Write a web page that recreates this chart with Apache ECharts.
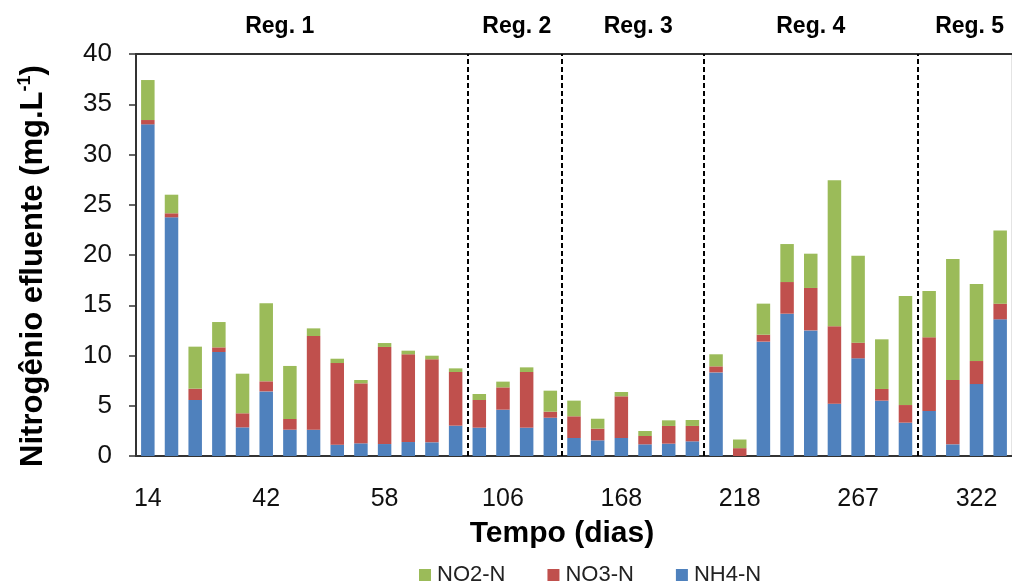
<!DOCTYPE html>
<html>
<head>
<meta charset="utf-8">
<script src="https://cdn.jsdelivr.net/npm/echarts@6/dist/echarts.min.js"></script>
<style>
  html, body { margin: 0; padding: 0; background: #fff; }
  #chart { width: 1012px; height: 585px; }
</style>
</head>
<body>
<div id="chart"></div>
<script>
// Sampling days (only every fifth one is labelled on the axis)
const days = [14, 18, 21, 28, 35, 42, 44, 47, 50, 54, 58, 62, 65, 70,
              99, 106, 113, 120,
              154, 161, 168, 182, 196, 203,
              211, 218, 225, 232, 246, 253, 267, 274, 288,
              302, 309, 322, 330];

// Effluent nitrogen fractions (mg/L)
const nh4 = [33.0, 23.75, 5.57, 10.35, 2.85, 6.43, 2.62, 2.62, 1.13, 1.26, 1.19, 1.39, 1.36, 3.02,
             2.82, 4.61, 2.82, 3.81,
             1.79, 1.56, 1.79, 1.16, 1.23, 1.46,
             8.32, 0.0, 11.38, 14.16, 12.5, 5.21, 9.72, 5.51, 3.32,
             4.48, 1.16, 7.16, 13.6];
const no3 = [0.43, 0.4, 1.13, 0.46, 1.4, 1.0, 1.06, 9.32, 8.12, 5.97, 9.66, 8.73, 8.26, 5.34,
             2.75, 2.22, 5.54, 0.6,
             2.16, 1.16, 4.15, 0.83, 1.76, 1.53,
             0.6, 0.78, 0.69, 3.15, 4.22, 7.69, 1.56, 1.16, 1.75,
             7.33, 6.4, 2.29, 1.56];
const no2 = [3.98, 1.85, 4.18, 2.52, 3.94, 7.76, 5.28, 0.76, 0.43, 0.33, 0.39, 0.36, 0.36, 0.36,
             0.6, 0.57, 0.46, 2.09,
             1.56, 0.99, 0.43, 0.5, 0.56, 0.59,
             1.2, 0.86, 3.09, 3.78, 3.41, 14.53, 8.65, 4.94, 10.85,
             4.61, 12.04, 7.66, 7.29];

// Operating regimes: names and category boundaries (bar index where each starts/ends)
const regimeNames = ['Reg. 1', 'Reg. 2', 'Reg. 3', 'Reg. 4', 'Reg. 5'];
const regimeBounds = [0, 14, 18, 24, 33, 37];

// Horizontal nudges for the regime titles (px)
const regimeLabelOffset = [[-22, 0], [2, 0], [5, 0], [0, 0], [5, 0]];

const FONT = 'Liberation Sans, Arial, sans-serif';

const chart = echarts.init(document.getElementById('chart'), null, { renderer: 'canvas' });

const boundaryLines = regimeBounds.slice(1, -1).map(function (b) { return { xAxis: b }; });
const regimeAreas = regimeNames.map(function (name, i) {
  return [
    { name: name, xAxis: regimeBounds[i], label: { offset: regimeLabelOffset[i] } },
    { xAxis: regimeBounds[i + 1] }
  ];
});

const option = {
  animation: false,
  backgroundColor: '#ffffff',
  textStyle: { fontFamily: FONT },
  grid: {
    left: 136, top: 54, width: 876, height: 402,
    show: true, borderColor: '#c8c8c8', borderWidth: 1, backgroundColor: 'transparent'
  },
  legend: {
    data: ['NO2-N', 'NO3-N', 'NH4-N'],
    top: 559, left: 414,
    itemWidth: 12, itemHeight: 12, itemGap: 42,
    icon: 'rect',
    textStyle: { fontSize: 22, color: '#222', fontFamily: FONT, padding: [0, 0, 0, 1] }
  },
  xAxis: [
    {
      type: 'category',
      data: days,
      axisLine: { show: true, lineStyle: { color: '#333', width: 2 } },
      axisTick: { show: false },
      axisLabel: { interval: 4, fontSize: 25, color: '#111', margin: 31, fontFamily: FONT },
      name: 'Tempo (dias)',
      nameLocation: 'middle',
      nameGap: 63,
      nameTextStyle: {
        fontSize: 30, fontWeight: 'bold', color: '#000', fontFamily: FONT,
        padding: [0, 24, 0, 0]
      }
    },
    {
      type: 'value',
      position: 'top',
      min: 0, max: 37,
      axisLine: { show: true, lineStyle: { color: '#333', width: 2 } },
      axisTick: { show: false },
      axisLabel: { show: false },
      splitLine: { show: false }
    }
  ],
  yAxis: {
    type: 'value',
    min: 0, max: 40, interval: 5,
    axisLine: { show: true, lineStyle: { color: '#333', width: 2 } },
    axisTick: { show: true, inside: false, length: 7, lineStyle: { color: '#333', width: 1.5 } },
    axisLabel: { fontSize: 26, color: '#111', margin: 24, fontFamily: FONT },
    splitLine: { show: false },
    name: '{a|Nitrogênio efluente (mg.L}{s|-1}{a|)}',
    nameLocation: 'middle',
    nameGap: 86,
    nameRotate: 90,
    nameTextStyle: {
      padding: [0, 22, 0, 0],
      rich: {
        a: { fontSize: 31, fontWeight: 'bold', color: '#000', fontFamily: FONT, lineHeight: 34 },
        s: { fontSize: 18, fontWeight: 'bold', color: '#000', fontFamily: FONT, verticalAlign: 'top', lineHeight: 34 }
      }
    }
  },
  series: [
    {
      name: 'NH4-N', type: 'bar', stack: 'N', data: nh4,
      barWidth: 13.5,
      itemStyle: { color: '#4F81BD' }
    },
    {
      name: 'NO3-N', type: 'bar', stack: 'N', data: no3,
      barWidth: 13.5,
      itemStyle: { color: '#C0504D' }
    },
    {
      name: 'NO2-N', type: 'bar', stack: 'N', data: no2,
      barWidth: 13.5,
      itemStyle: { color: '#9BBB59' }
    },
    {
      // regime boundaries and titles, placed on the hidden top value axis
      name: 'regimes', type: 'scatter',
      xAxisIndex: 1, yAxisIndex: 0,
      data: [[0, 0]], symbolSize: 0, silent: true,
      markLine: {
        silent: true, symbol: 'none',
        label: { show: false },
        lineStyle: { color: '#000', width: 2, type: [5, 3] },
        data: boundaryLines
      },
      markArea: {
        silent: true,
        itemStyle: { color: 'rgba(0,0,0,0)' },
        label: {
          show: true, position: 'top', distance: 16,
          fontSize: 23, fontWeight: 'bold', color: '#000', fontFamily: FONT
        },
        data: regimeAreas
      }
    }
  ]
};

chart.setOption(option);
</script>
</body>
</html>
